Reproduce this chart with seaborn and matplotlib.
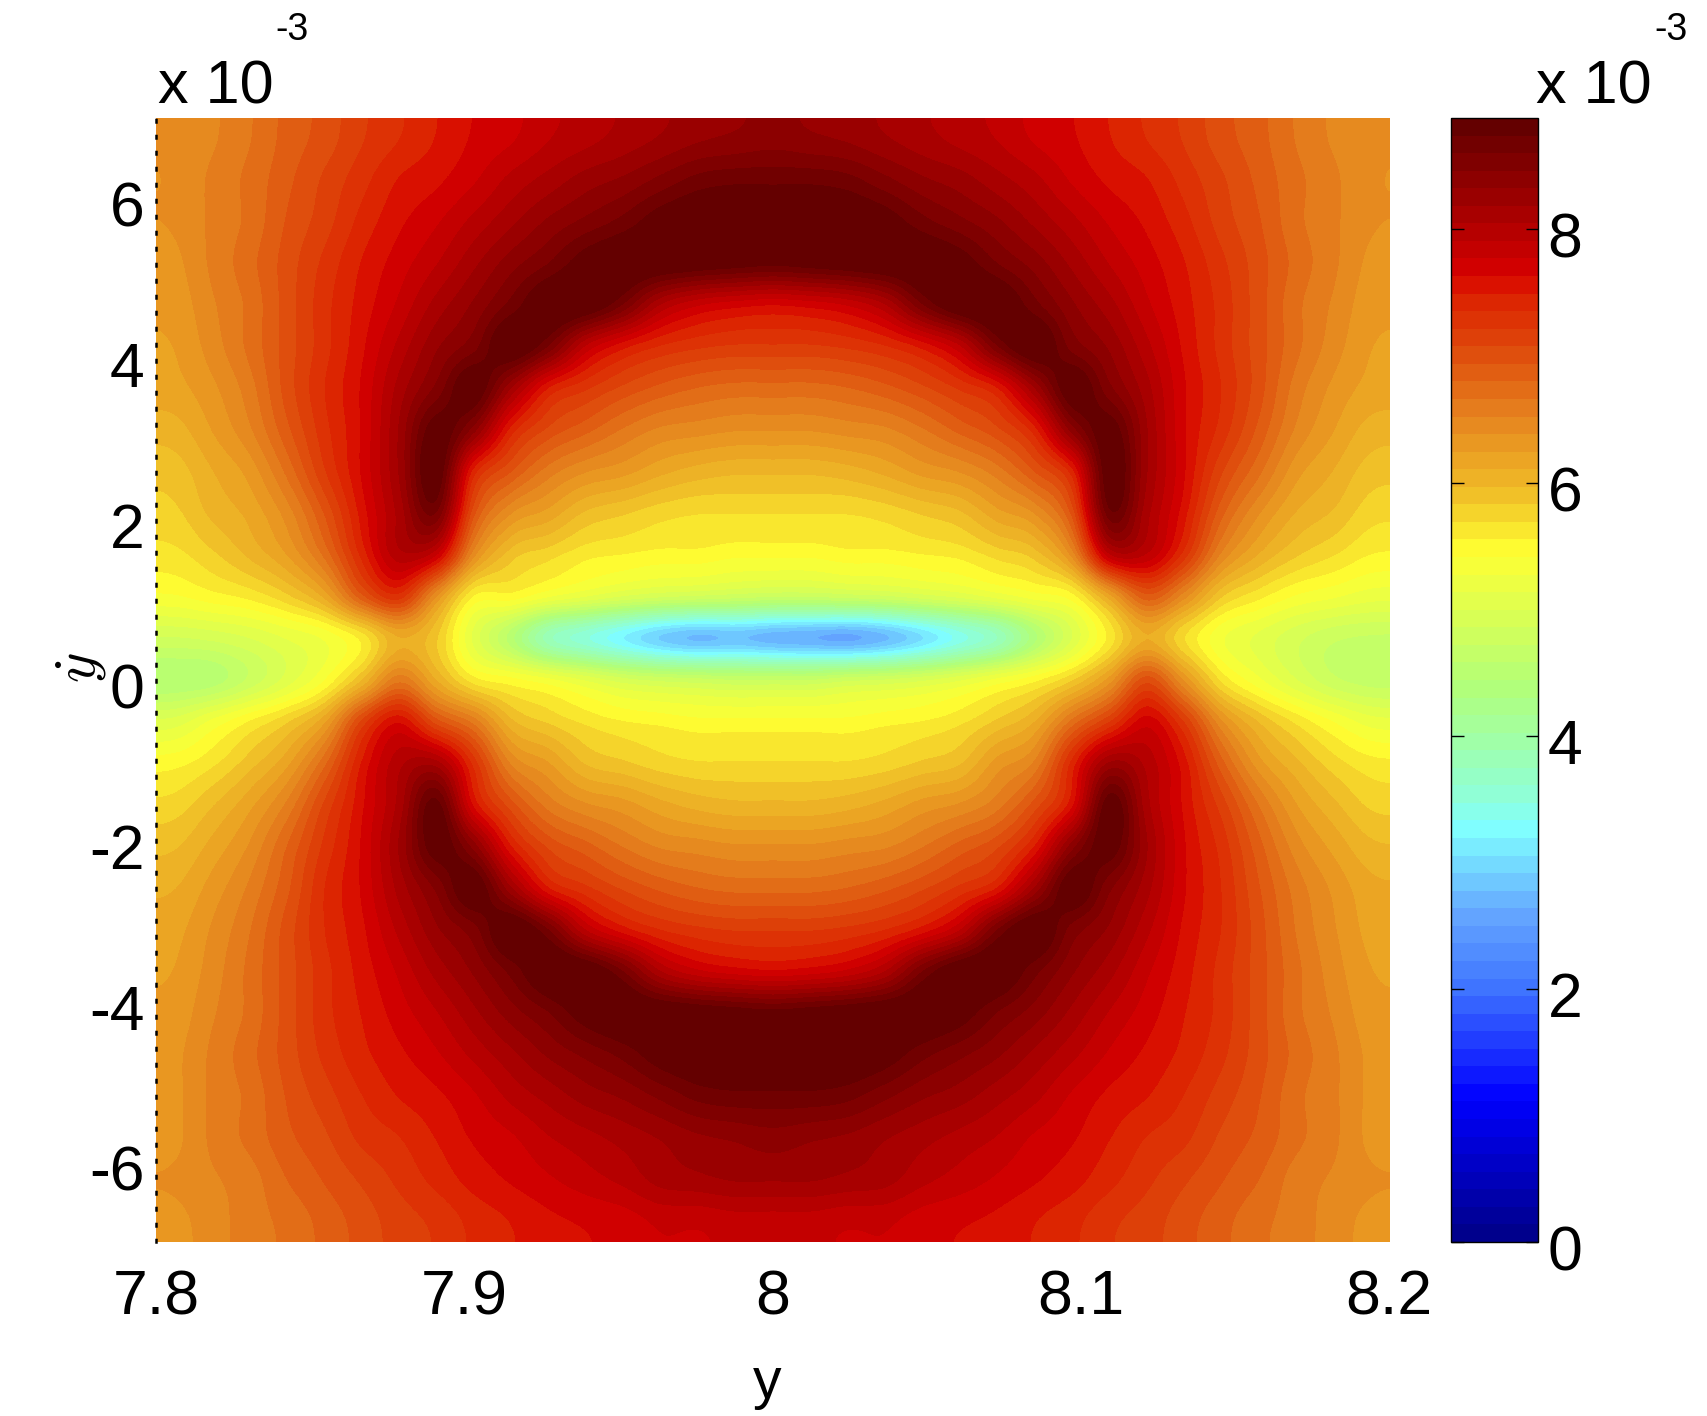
import numpy as np
import matplotlib
matplotlib.use("Agg")
import matplotlib.pyplot as plt
from matplotlib.colors import LinearSegmentedColormap
from matplotlib.transforms import ScaledTranslation
import seaborn as sns

x_ticks = [7.8, 7.9, 8.0, 8.1, 8.2]
x_labels = ["7.8", "7.9", "8", "8.1", "8.2"]
y_ticks = [6, 4, 2, 0, -2, -4, -6]
y_labels = ["6", "4", "2", "0", "-2", "-4", "-6"]
cbar_ticks = [0, 2, 4, 6, 8]
x_range = (7.8, 8.2)
y_range = (7, -7)
value_range = (0, 8.88)

# values (x 10^-3), one list per column, left to right, top to bottom
field_columns = [
    [6.4, 6.4, 6.4, 6.35, 6.3, 6.25, 6.2, 6.05, 5.9, 5.8, 5.65, 5.4, 4.85, 4.45, 5.05, 5.5, 5.75, 5.95, 6.1, 6.2, 6.25, 6.3, 6.35, 6.35, 6.35, 6.4, 6.35],
    [6.5, 6.55, 6.55, 6.55, 6.5, 6.45, 6.35, 6.25, 6.1, 6.0, 5.8, 5.5, 4.9, 4.5, 5.3, 5.65, 5.95, 6.15, 6.3, 6.4, 6.45, 6.5, 6.55, 6.55, 6.55, 6.5, 6.45],
    [6.65, 6.7, 6.7, 6.75, 6.7, 6.7, 6.6, 6.5, 6.3, 6.15, 6.0, 5.6, 5.0, 4.75, 5.55, 5.9, 6.2, 6.4, 6.55, 6.65, 6.7, 6.7, 6.75, 6.7, 6.7, 6.6, 6.6],
    [6.85, 6.9, 6.95, 7.0, 7.0, 7.0, 7.0, 6.9, 6.7, 6.45, 6.25, 5.8, 5.15, 5.05, 5.8, 6.2, 6.55, 6.8, 6.9, 7.0, 7.0, 7.0, 7.0, 6.95, 6.9, 6.8, 6.7],
    [7.0, 7.1, 7.15, 7.25, 7.3, 7.3, 7.35, 7.3, 7.2, 6.95, 6.7, 6.15, 5.3, 5.4, 6.2, 6.75, 7.1, 7.25, 7.35, 7.35, 7.3, 7.3, 7.25, 7.15, 7.05, 6.95, 6.85],
    [7.2, 7.3, 7.4, 7.5, 7.55, 7.6, 7.65, 7.65, 7.65, 7.55, 7.4, 6.9, 5.6, 5.95, 7.1, 7.5, 7.6, 7.65, 7.65, 7.6, 7.55, 7.5, 7.45, 7.35, 7.25, 7.1, 7.0],
    [7.35, 7.5, 7.6, 7.7, 7.8, 7.95, 8.1, 8.2, 8.2, 8.1, 8.0, 7.3, 6.1, 6.6, 7.6, 8.0, 8.1, 8.2, 8.1, 7.95, 7.8, 7.7, 7.6, 7.5, 7.35, 7.25, 7.15],
    [7.5, 7.6, 7.75, 7.9, 8.1, 8.3, 8.5, 8.85, 8.9, 8.6, 7.8, 6.4, 5.85, 6.1, 7.0, 8.1, 8.8, 8.85, 8.5, 8.3, 8.1, 7.9, 7.75, 7.6, 7.5, 7.4, 7.25],
    [7.65, 7.75, 7.95, 8.15, 8.35, 8.55, 8.9, 8.4, 7.45, 7.0, 6.45, 5.55, 5.1, 5.6, 6.6, 7.3, 7.6, 8.4, 8.9, 8.55, 8.35, 8.15, 7.95, 7.75, 7.65, 7.55, 7.4],
    [7.75, 7.95, 8.15, 8.4, 8.65, 8.95, 8.2, 7.45, 6.95, 6.4, 5.9, 5.5, 4.5, 5.45, 6.0, 6.5, 7.0, 7.5, 8.2, 8.95, 8.65, 8.4, 8.15, 7.95, 7.75, 7.65, 7.5],
    [7.9, 8.1, 8.35, 8.6, 8.95, 8.6, 7.5, 7.05, 6.6, 6.2, 5.75, 5.3, 3.8, 5.3, 5.8, 6.25, 6.6, 7.05, 7.5, 8.6, 8.95, 8.6, 8.35, 8.1, 7.9, 7.75, 7.6],
    [8.0, 8.25, 8.5, 8.85, 8.95, 7.9, 7.25, 6.85, 6.4, 5.95, 5.6, 5.15, 3.5, 5.1, 5.65, 5.95, 6.4, 6.85, 7.25, 7.9, 8.95, 8.85, 8.5, 8.25, 8.0, 7.85, 7.65],
    [8.1, 8.35, 8.65, 8.95, 8.6, 7.55, 7.05, 6.65, 6.3, 5.85, 5.55, 5.0, 3.2, 4.9, 5.55, 5.85, 6.3, 6.65, 7.05, 7.55, 8.6, 8.95, 8.65, 8.35, 8.1, 7.95, 7.7],
    [8.2, 8.5, 8.85, 8.95, 8.05, 7.35, 6.9, 6.5, 6.15, 5.75, 5.5, 4.9, 2.9, 4.8, 5.5, 5.75, 6.15, 6.5, 6.9, 7.35, 8.05, 8.95, 8.85, 8.5, 8.2, 8.1, 7.8],
    [8.3, 8.65, 8.95, 8.9, 7.8, 7.25, 6.8, 6.45, 6.05, 5.7, 5.5, 4.85, 2.75, 4.75, 5.45, 5.7, 6.05, 6.45, 6.8, 7.25, 7.8, 8.9, 8.95, 8.65, 8.3, 8.15, 7.8],
    [8.35, 8.7, 9.0, 8.85, 7.7, 7.2, 6.75, 6.4, 6.0, 5.7, 5.45, 4.8, 2.8, 4.7, 5.45, 5.7, 6.0, 6.4, 6.75, 7.2, 7.7, 8.85, 9.0, 8.7, 8.35, 8.2, 7.85],
    [8.4, 8.7, 9.0, 8.8, 7.65, 7.2, 6.75, 6.4, 6.0, 5.7, 5.45, 4.75, 2.7, 4.7, 5.45, 5.7, 6.0, 6.4, 6.75, 7.2, 7.65, 8.8, 9.0, 8.7, 8.4, 8.2, 7.85],
    [8.35, 8.7, 9.0, 8.85, 7.7, 7.2, 6.75, 6.4, 6.0, 5.7, 5.45, 4.75, 2.65, 4.7, 5.45, 5.7, 6.0, 6.4, 6.75, 7.2, 7.7, 8.85, 9.0, 8.7, 8.35, 8.2, 7.85],
    [8.3, 8.65, 8.95, 8.9, 7.8, 7.25, 6.8, 6.45, 6.05, 5.7, 5.5, 4.8, 2.6, 4.8, 5.45, 5.7, 6.05, 6.45, 6.8, 7.25, 7.8, 8.9, 8.95, 8.65, 8.3, 8.15, 7.8],
    [8.2, 8.5, 8.85, 8.95, 8.05, 7.35, 6.9, 6.5, 6.15, 5.75, 5.5, 4.85, 2.75, 4.85, 5.5, 5.75, 6.15, 6.5, 6.9, 7.35, 8.05, 8.95, 8.85, 8.5, 8.2, 8.1, 7.8],
    [8.1, 8.35, 8.65, 8.95, 8.6, 7.55, 7.05, 6.65, 6.3, 5.85, 5.55, 4.95, 3.05, 4.95, 5.55, 5.85, 6.3, 6.65, 7.05, 7.55, 8.6, 8.95, 8.65, 8.35, 8.1, 7.95, 7.7],
    [8.0, 8.25, 8.5, 8.85, 8.95, 7.9, 7.25, 6.85, 6.4, 5.95, 5.6, 5.05, 3.4, 5.1, 5.65, 5.95, 6.4, 6.85, 7.25, 7.9, 8.95, 8.85, 8.5, 8.25, 8.0, 7.85, 7.65],
    [7.9, 8.1, 8.35, 8.6, 8.95, 8.6, 7.5, 7.05, 6.6, 6.2, 5.75, 5.2, 3.75, 5.3, 5.85, 6.3, 6.6, 7.05, 7.5, 8.6, 8.95, 8.6, 8.35, 8.1, 7.9, 7.75, 7.6],
    [7.75, 7.95, 8.15, 8.4, 8.65, 8.95, 8.2, 7.45, 6.95, 6.4, 5.9, 5.35, 4.4, 5.5, 6.1, 6.55, 7.0, 7.5, 8.2, 8.95, 8.65, 8.4, 8.15, 7.95, 7.75, 7.65, 7.5],
    [7.65, 7.75, 7.95, 8.15, 8.35, 8.55, 8.9, 8.4, 7.45, 7.0, 6.45, 5.5, 5.0, 5.8, 6.7, 7.4, 7.6, 8.4, 8.9, 8.55, 8.35, 8.15, 7.95, 7.75, 7.65, 7.55, 7.4],
    [7.5, 7.6, 7.75, 7.9, 8.1, 8.3, 8.5, 8.85, 8.9, 8.7, 7.9, 6.2, 5.6, 6.3, 7.2, 8.2, 8.85, 8.85, 8.5, 8.3, 8.1, 7.9, 7.75, 7.6, 7.5, 7.4, 7.25],
    [7.35, 7.5, 7.6, 7.7, 7.8, 7.95, 8.1, 8.2, 8.2, 8.1, 7.9, 6.9, 6.1, 7.0, 7.7, 8.0, 8.1, 8.2, 8.1, 7.95, 7.8, 7.7, 7.6, 7.5, 7.35, 7.25, 7.15],
    [7.2, 7.3, 7.4, 7.5, 7.55, 7.6, 7.65, 7.65, 7.65, 7.55, 7.3, 6.45, 5.7, 6.35, 7.2, 7.55, 7.6, 7.65, 7.65, 7.6, 7.55, 7.5, 7.45, 7.35, 7.25, 7.1, 7.0],
    [7.0, 7.1, 7.15, 7.25, 7.3, 7.3, 7.35, 7.3, 7.1, 6.85, 6.5, 5.85, 5.3, 5.65, 6.4, 6.85, 7.15, 7.3, 7.35, 7.35, 7.3, 7.3, 7.25, 7.15, 7.05, 6.95, 6.85],
    [6.85, 6.9, 6.95, 7.0, 7.0, 7.0, 7.0, 6.9, 6.7, 6.4, 6.1, 5.6, 5.1, 5.3, 5.95, 6.3, 6.65, 6.85, 6.95, 7.0, 7.0, 7.0, 7.0, 6.95, 6.9, 6.8, 6.7],
    [6.65, 6.7, 6.7, 6.75, 6.7, 6.7, 6.6, 6.5, 6.3, 6.1, 5.85, 5.4, 4.9, 5.0, 5.65, 6.0, 6.25, 6.45, 6.6, 6.65, 6.7, 6.7, 6.75, 6.7, 6.7, 6.6, 6.6],
    [6.5, 6.55, 6.55, 6.55, 6.5, 6.45, 6.35, 6.25, 6.1, 5.95, 5.7, 5.3, 4.75, 4.75, 5.4, 5.75, 6.0, 6.2, 6.35, 6.4, 6.45, 6.5, 6.55, 6.55, 6.55, 6.5, 6.45],
    [6.4, 6.4, 6.4, 6.35, 6.3, 6.25, 6.2, 6.05, 5.9, 5.75, 5.55, 5.2, 4.7, 4.65, 5.2, 5.6, 5.8, 6.0, 6.15, 6.2, 6.25, 6.3, 6.35, 6.35, 6.35, 6.4, 6.35],
]

sns.set_theme(style="white")
plt.rcParams["font.family"] = ["Liberation Sans", "DejaVu Sans"]
plt.rcParams["mathtext.fontset"] = "cm"

# jet variant picked off the colorbar, 64 steps like the original
jet_steps = LinearSegmentedColormap.from_list("jet_steps", [
    (0 / 8.88, "#00008c"),
    (1.09 / 8.88, "#0000ff"),
    (2.0 / 8.88, "#4178ff"),
    (2.55 / 8.88, "#64a5ff"),
    (3.25 / 8.88, "#80ffff"),
    (3.55 / 8.88, "#91ffd2"),
    (4.4 / 8.88, "#b2ff78"),
    (5.47 / 8.88, "#ffff32"),
    (5.94 / 8.88, "#f0be28"),
    (6.59 / 8.88, "#e5801e"),
    (7.13 / 8.88, "#de460a"),
    (7.55 / 8.88, "#dc1e00"),
    (7.69 / 8.88, "#d70000"),
    (8.0 / 8.88, "#b90000"),
    (1.0, "#640000"),
], N=64)

field = np.array(field_columns).T
n_rows, n_cols = field.shape

fig = plt.figure(figsize=(17.08, 14.16), dpi=100)
ax = fig.add_axes([0.0913, 0.1229, 0.7219, 0.7938])
cax = fig.add_axes([0.8495, 0.1229, 0.0509, 0.7938])

sns.heatmap(field, ax=ax, cbar_ax=cax, cmap=jet_steps, vmin=value_range[0], vmax=value_range[1],
            xticklabels=False, yticklabels=False)
# the heatmap cells are coarse, so smooth them over in the same cell coordinates
ax.imshow(field, extent=(0, n_cols, n_rows, 0), aspect="auto", interpolation="catrom",
          cmap=jet_steps, vmin=value_range[0], vmax=value_range[1], zorder=2)
ax.set_xlim(0, n_cols)
ax.set_ylim(n_rows, 0)

x_pos = [(v - x_range[0]) / (x_range[1] - x_range[0]) * n_cols for v in x_ticks]
y_pos = [(v - y_range[0]) / (y_range[1] - y_range[0]) * n_rows for v in y_ticks]
ax.set_xticks(x_pos, x_labels, fontsize=45)
ax.set_yticks(y_pos, y_labels, fontsize=45)
ax.tick_params(axis="x", length=0, pad=19, colors="black")
ax.tick_params(axis="y", length=0, pad=8, colors="black")

# the original's labels sit a few pixels under their ticks
label_shift = ScaledTranslation(0, -4 / 72, fig.dpi_scale_trans)
for label in ax.get_yticklabels():
    label.set_transform(label.get_transform() + label_shift)

for side in ["top", "right", "bottom"]:
    ax.spines[side].set_visible(False)
ax.spines["left"].set_visible(True)
ax.spines["left"].set_color("black")
ax.spines["left"].set_linewidth(1.8)
ax.spines["left"].set_linestyle((0, (1, 5.4)))

cbar = ax.collections[0].colorbar
cbar.set_ticks(cbar_ticks)
cbar.set_ticklabels([str(t) for t in cbar_ticks])
cbar.outline.set_visible(True)
cbar.outline.set_edgecolor("black")
cbar.outline.set_linewidth(1.0)
cax.set_axisbelow(False)
cax.tick_params(axis="y", which="both", direction="in", left=True, right=True,
                length=9, width=1, color="black", labelsize=45, labelcolor="black", pad=7)
for label in cax.get_yticklabels():
    label.set_transform(label.get_transform() + label_shift)

fig.text(158 / 1708, 1 - 104 / 1416, "x 10", fontsize=44, color="black", ha="left", va="baseline")
fig.text(275 / 1708, 1 - 40 / 1416, "-3", fontsize=27, color="black", ha="left", va="baseline")
fig.text(1536 / 1708, 1 - 104 / 1416, "x 10", fontsize=44, color="black", ha="left", va="baseline")
fig.text(1654 / 1708, 1 - 40 / 1416, "-3", fontsize=27, color="black", ha="left", va="baseline")

fig.text(767 / 1708, 1 - 1383 / 1416, "y", fontsize=41, color="black", ha="center", va="center")
fig.text(82 / 1708, 1 - 668 / 1416, r"$\dot{y}$", fontsize=42, color="black", rotation=90,
         ha="center", va="center")

fig.savefig("out.png", dpi=100, facecolor="white")
